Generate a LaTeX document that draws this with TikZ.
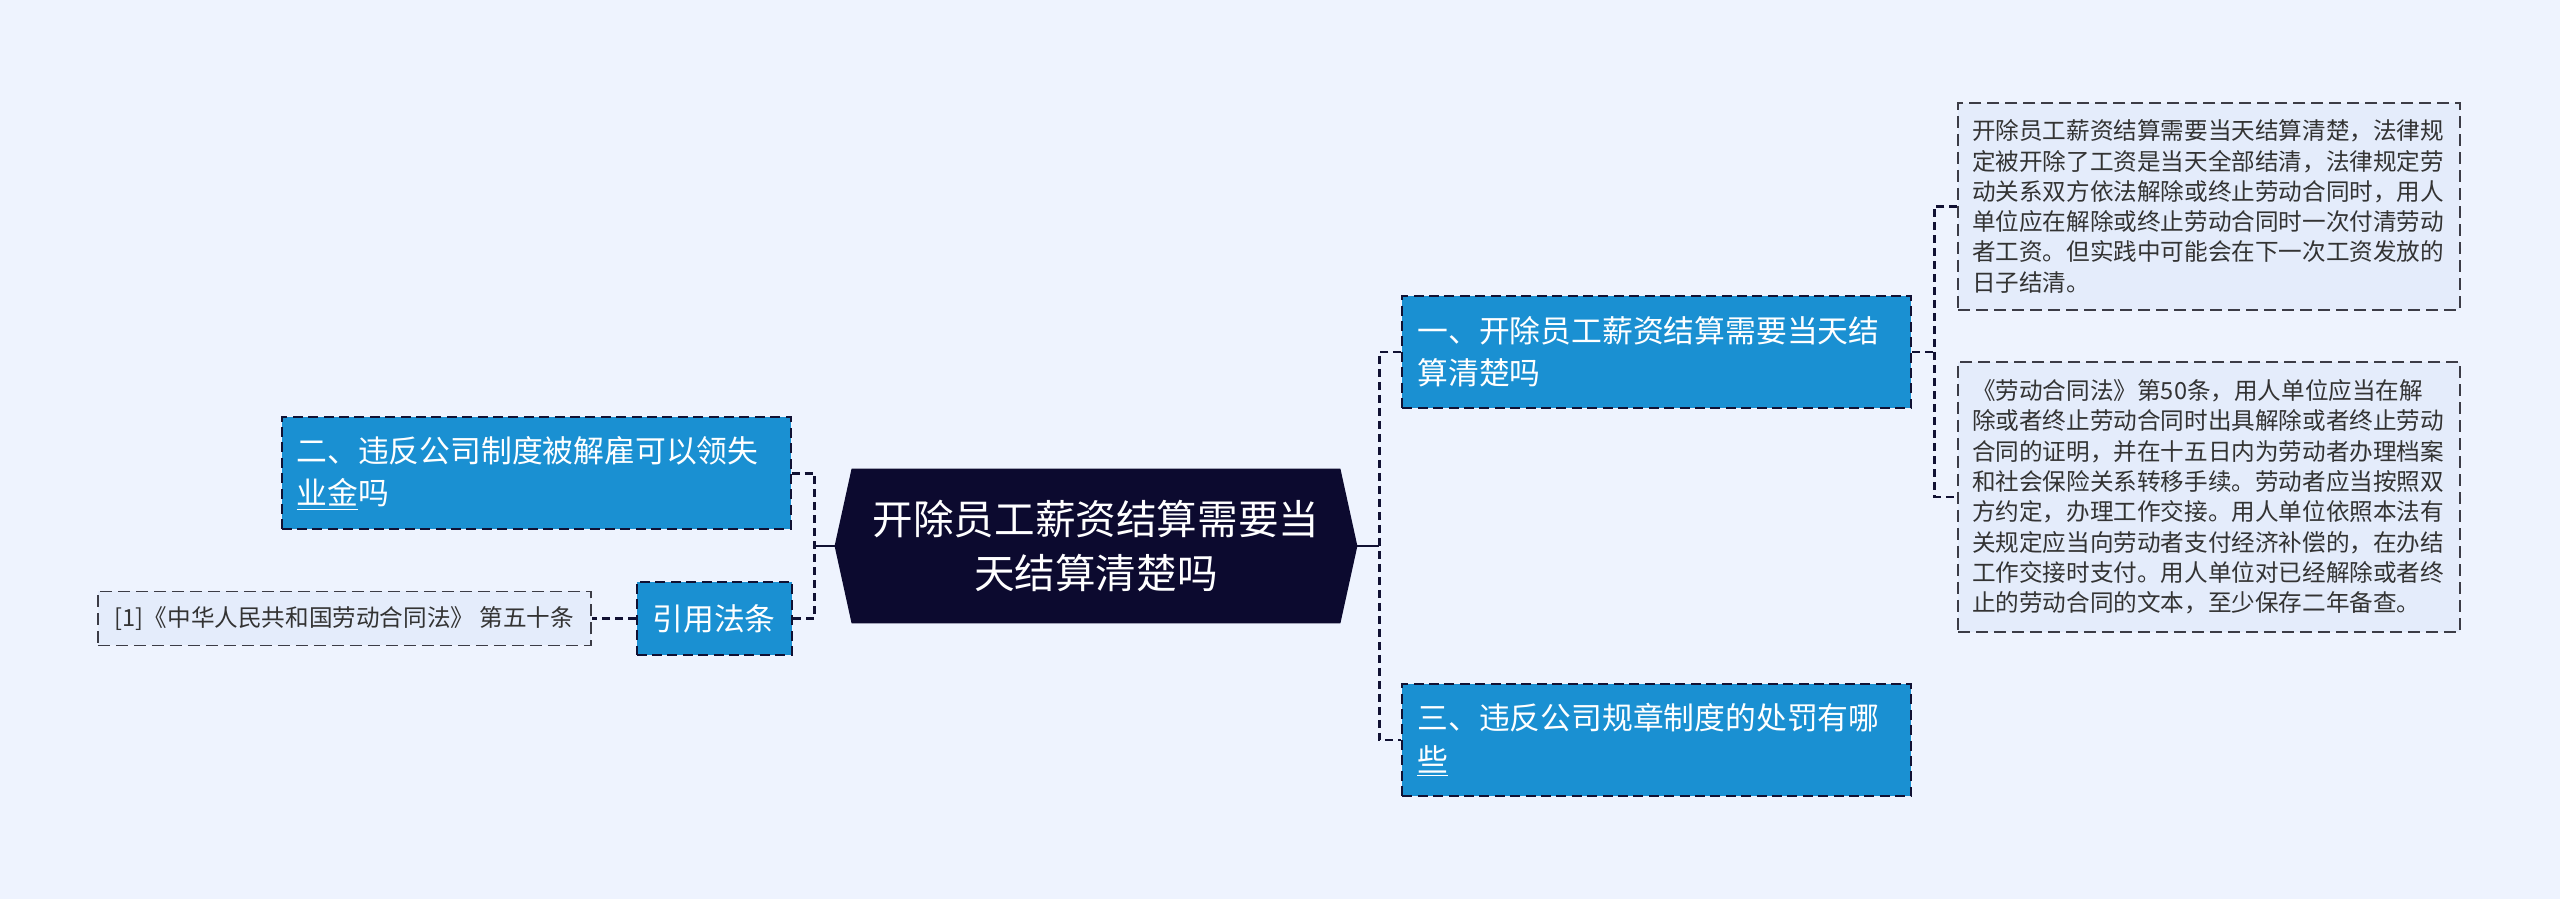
\documentclass[tikz,border=0pt]{standalone}
\usepackage{fontspec}
\setmainfont{Noto Sans CJK SC}
\usepackage{xcolor}
\usepackage{tikz}
\usetikzlibrary{positioning, backgrounds}
\definecolor{bgcol}{HTML}{EEF3FE}
\definecolor{navy}{HTML}{0C0A2F}
\definecolor{topicblue}{HTML}{1A90D2}
\definecolor{linecol}{HTML}{111133}
\definecolor{leaffill}{HTML}{E4ECFB}
\definecolor{leafline}{HTML}{3C3C46}
\definecolor{leaftext}{HTML}{333333}

\begin{document}
\begin{tikzpicture}[
  hubbox/.style   = {minimum width=261pt, minimum height=77pt, inner sep=0pt,
                     text=white, align=center,
                     font=\fontsize{20.3}{27}\selectfont},
  blueframe/.style = {draw=linecol, line width=1pt, dash pattern=on 5pt off 2.7pt,
                     fill=topicblue, text=white},
  topicbox/.style = {blueframe, text width=239.5pt, inner xsep=7.5pt,
                     minimum height=56pt, align=left,
                     font=\fontsize{15.4}{21}\selectfont},
  lawbox/.style   = {blueframe, minimum width=77.5pt, minimum height=36.5pt,
                     inner sep=0pt, align=center,
                     font=\fontsize{15.4}{21}\selectfont},
  leafbox/.style  = {draw=leafline, line width=0.75pt, dash pattern=on 6pt off 3pt,
                     fill=leaffill, text=leaftext, text width=237pt,
                     inner xsep=7pt, align=left,
                     font=\fontsize{11.8}{15.15}\selectfont},
  citebox/.style  = {draw=leafline, line width=0.75pt, dash pattern=on 6pt off 3pt,
                     fill=leaffill, text=leaftext, minimum width=246.5pt,
                     minimum height=27pt, inner sep=0pt,
                     font=\fontsize{11.8}{15.15}\selectfont},
  link/.style     = {draw=linecol, line width=1.35pt, dash pattern=on 4pt off 2.5pt},
  stub/.style     = {draw=linecol, line width=1.35pt}
]
\begin{scope}[on background layer]
  \fill[bgcol] (-548pt,-176.5pt) rectangle (732pt,273pt);
\end{scope}
\useasboundingbox (-548pt,-176.5pt) rectangle (732pt,273pt);

\node[hubbox] (hub) at (0,0) {开除员工薪资结算需要当\\天结算清楚吗};
\begin{scope}[on background layer]
  \fill[navy] (hub.west) -- ([xshift=8.5pt]hub.north west)
    -- ([xshift=-8.5pt]hub.north east) -- (hub.east)
    -- ([xshift=-8.5pt]hub.south east) -- ([xshift=8.5pt]hub.south west) -- cycle;
\end{scope}

\node[topicbox, right=22pt of hub, yshift=97pt] (t1)
  {一、开除员工薪资结算需要当天结\\算清楚吗};
\node[topicbox, right=22pt of hub, yshift=-97pt] (t3)
  {三、违反公司规章制度的处罚有哪\\\underline{些}};
\node[topicbox, left=21.5pt of hub, yshift=36.25pt] (t2)
  {二、违反公司制度被解雇可以领失\\\underline{业金}吗};
\node[lawbox, left=21pt of hub, yshift=-36.25pt] (law) {引用法条};
\node[citebox, left=22pt of law] (cite) {[1]《中华人民共和国劳动合同法》 第五十条};

\node[leafbox, minimum height=103.5pt, right=22.5pt of t1, yshift=72.75pt] (d1) {
  开除员工薪资结算需要当天结算清楚，法律规\\
  定被开除了工资是当天全部结清，法律规定劳\\
  动关系双方依法解除或终止劳动合同时，用人\\
  单位应在解除或终止劳动合同时一次付清劳动\\
  者工资。但实践中可能会在下一次工资发放的\\
  日子结清。};
\node[leafbox, minimum height=135pt, right=22.5pt of t1, yshift=-72.5pt] (d2) {
  《劳动合同法》第50条，用人单位应当在解\\
  除或者终止劳动合同时出具解除或者终止劳动\\
  合同的证明，并在十五日内为劳动者办理档案\\
  和社会保险关系转移手续。劳动者应当按照双\\
  方约定，办理工作交接。用人单位依照本法有\\
  关规定应当向劳动者支付经济补偿的，在办结\\
  工作交接时支付。用人单位对已经解除或者终\\
  止的劳动合同的文本，至少保存二年备查。};

\coordinate (hr) at ([xshift=11pt]hub.east);
\coordinate (hl) at ([xshift=-10pt]hub.west);
\coordinate (tr) at ([xshift=11pt]t1.east);

\draw[stub] (hub.east) -- (hr);
\draw[stub] (hub.west) -- (hl);
\draw[link] (t1.west) -| (hr) |- (t3.west);
\draw[link] (t2.east) -| (hl) |- (law.east);
\draw[link] (t1.east) -- (tr);
\draw[link] (d1.west) -| (tr) |- (d2.west);
\draw[link] (law.west) -- (cite.east);
\end{tikzpicture}
\end{document}
